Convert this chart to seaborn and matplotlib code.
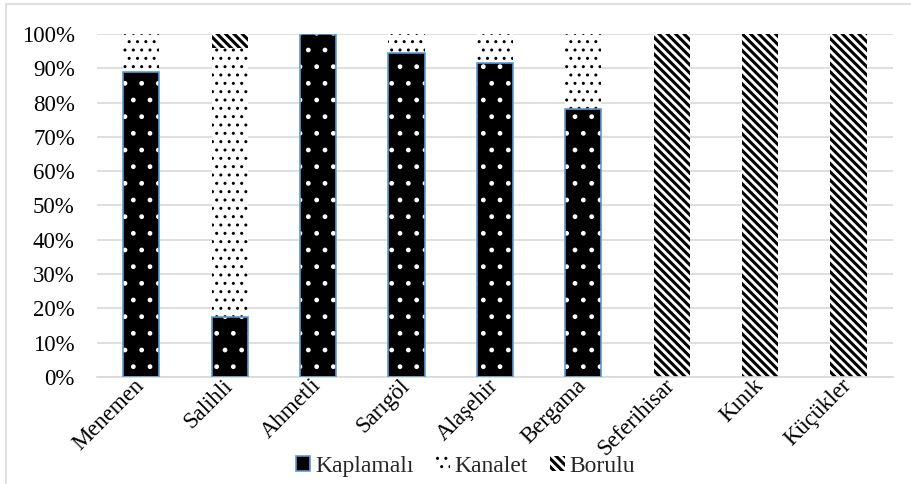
import matplotlib
matplotlib.use('Agg')
import matplotlib.pyplot as plt
from matplotlib.patches import Patch
from matplotlib.lines import Line2D
from matplotlib.ticker import PercentFormatter
import seaborn as sns

# veriler (yüzde)
ilceler = ['Menemen', 'Salihli', 'Ahmetli', 'Sarıgöl', 'Alaşehir', 'Bergama',
           'Seferihisar', 'Kınık', 'Küçükler']
kaplamali = [89, 17.5, 100, 94.5, 91.5, 78, 0, 0, 0]
kanalet = [11, 78.5, 0, 5.5, 8.5, 22, 0, 0, 0]
borulu = [0, 4, 0, 0, 0, 0, 100, 100, 100]
seri_adlari = ['Kaplamalı', 'Kanalet', 'Borulu']

sns.set_style('white')
plt.rcParams['font.family'] = ['Liberation Serif', 'DejaVu Serif']
plt.rcParams['hatch.linewidth'] = 1.0

fig = plt.figure(figsize=(9.11, 4.84), dpi=100)
ax = fig.add_axes([0.1065, 0.221, 0.8735, 0.709])

bar_w = 0.41
alt2 = [a + b for a, b in zip(kaplamali, kanalet)]
boru_desen = '\\\\\\\\'
boru_lw = 2.2

# Kaplamalı: siyah, beyaz noktalar
sns.barplot(x=ilceler, y=kaplamali, color='black', saturation=1, width=bar_w,
            errorbar=None, ax=ax, edgecolor='white', linewidth=0, hatch='.')
n0 = len(ax.patches)
# Kanalet: beyaz, siyah seyrek noktalar
sns.barplot(x=ilceler, y=kanalet, bottom=kaplamali, color='white', saturation=1,
            width=bar_w, errorbar=None, ax=ax, edgecolor='black', linewidth=0,
            hatch='..')
n1 = len(ax.patches)
# Borulu: sık çapraz desen
sns.barplot(x=ilceler, y=borulu, bottom=alt2, color='white', saturation=1,
            width=bar_w, errorbar=None, ax=ax, edgecolor='black', linewidth=0,
            hatch=boru_desen)
for p in ax.patches[n1:]:
    if hasattr(p, 'set_hatch_linewidth'):
        p.set_hatch_linewidth(boru_lw)

# Kaplamalı çubuklarının mavi kenarı
for p in ax.patches[:n0]:
    if p.get_height() > 0:
        ax.add_patch(plt.Rectangle(p.get_xy(), p.get_width(), p.get_height(),
                                   fill=False, edgecolor='#5b9bd5', linewidth=1.2,
                                   zorder=3))

ax.set_ylim(0, 100)
ax.set_xlim(-0.5, len(ilceler) - 0.5)
ax.set_yticks(range(0, 101, 10))
ax.yaxis.set_major_formatter(PercentFormatter(decimals=0))
ax.yaxis.grid(True, color='#d9d9d9', linewidth=1.2)
ax.set_axisbelow(True)
for s in ['left', 'right', 'top']:
    ax.spines[s].set_visible(False)
ax.spines['bottom'].set_color('#d9d9d9')
ax.spines['bottom'].set_linewidth(1.2)
ax.tick_params(axis='y', length=0, labelsize=16.5, colors='black', pad=16)
ax.tick_params(axis='x', length=0, labelsize=16.5, colors='black', pad=4)
plt.setp(ax.get_xticklabels(), rotation=45, ha='right', va='center',
         rotation_mode='anchor')
ax.set_xlabel('')
ax.set_ylabel('')

handles = [
    Patch(facecolor='black', edgecolor='#5b9bd5', linewidth=1.2),
    Patch(facecolor='white', edgecolor='black', linewidth=0, hatch='..'),
    Patch(facecolor='white', edgecolor='black', linewidth=0, hatch=boru_desen),
]
leg = fig.legend(handles, seri_adlari, loc='center', bbox_to_anchor=(0.511, 0.037),
                 ncol=3, frameon=False, fontsize=17, handlelength=0.6,
                 handleheight=0.6, handletextpad=0.2, columnspacing=0.95,
                 borderpad=0)
for h in leg.legend_handles[2:]:
    if hasattr(h, 'set_hatch_linewidth'):
        h.set_hatch_linewidth(boru_lw)

# grafik alanı çerçevesi
fig.add_artist(Line2D([6 / 911, 6 / 911], [0, 1 - 4 / 484], color='#d9d9d9',
                      linewidth=1.2, transform=fig.transFigure))
fig.add_artist(Line2D([6 / 911, 1], [1 - 4 / 484, 1 - 4 / 484], color='#d9d9d9',
                      linewidth=1.2, transform=fig.transFigure))

fig.savefig('out.png', dpi=100)
